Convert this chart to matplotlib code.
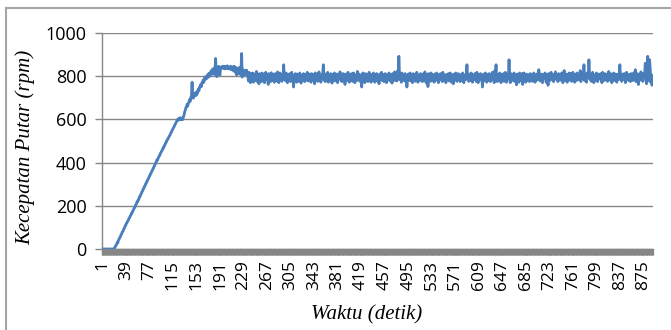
import matplotlib
matplotlib.use("Agg")
import matplotlib.pyplot as plt
from matplotlib.lines import Line2D

# Motor speed log, one reading per second
idle = [0, 0, 0, 0, 0, 0, 0, 0, 0, 0, 0, 0, 0, 0, 0, 0, 0, 0, 0]

ramp = [
    0, 8, 10, 18, 20, 30, 28, 40, 45, 52,
    55, 65, 68, 78, 80, 86, 95, 98, 108, 110,
    120, 122, 130, 132, 142, 145, 152, 156, 165, 166,
    175, 178, 188, 190, 196, 205, 208, 218, 218, 228,
    230, 242, 243, 252, 256, 265, 268, 278, 280, 290,
    292, 302, 304, 314, 316, 325, 328, 338, 340, 350,
    352, 362, 364, 374, 376, 386, 388, 398, 402, 412,
    410, 420, 424, 432, 434, 444, 448, 455, 458, 468,
    468, 478, 480, 490, 492, 502, 504, 512, 515, 522,
    526, 532, 540, 542, 552, 555, 562, 566, 574, 578,
    585, 590, 598, 600, 596, 606, 600, 608, 602, 598,
    606, 600, 612, 618, 635, 642, 655, 658, 670, 662,
    675, 680, 692, 684, 702, 710, 772, 704, 698, 716,
    708, 722, 710, 726, 716, 732, 740, 732, 750, 750,
    762, 752, 770, 770, 782, 772, 792, 784, 798, 798,
    790, 806, 796, 812, 800, 816,
]

overshoot = [
    806, 826, 810, 832, 816, 836, 808, 830, 882, 812,
    798, 832, 810, 846, 818, 806, 836, 842, 840, 846,
    836, 846, 840, 834, 846, 842, 836, 848, 840, 834,
    842, 836, 846, 830, 840, 844, 834, 824, 846, 836,
    818, 840, 806, 836, 826, 812, 840, 828, 808, 824,
    905, 796, 830, 814, 806, 826, 810, 820, 828, 802,
]

steady = [
    805, 778, 818, 792, 770, 812, 785, 800, 815, 772, 798, 810, 780, 795, 822, 776, 808, 790, 765, 812,
    788, 802, 775, 815, 795, 782, 810, 770, 798, 818, 784, 806, 792, 762, 812, 786, 800, 775, 816, 790,
    780, 808, 795, 772, 812, 788, 802, 778, 820, 792, 770, 805, 815, 784, 798, 776, 810, 790, 853, 785,
    805, 778, 815, 792, 770, 808, 786, 800, 812, 775, 796, 818, 782, 790, 750, 806, 780, 812, 795, 772,
    810, 788, 800, 776, 815, 792, 768, 805, 798, 782, 812, 790, 775, 808, 800, 786, 818, 778, 796, 810,
    784, 800, 772, 812, 795, 780, 808, 790, 765, 815, 798, 785, 810, 776, 802, 820, 788, 795, 772, 806,
    790, 812, 853, 782, 800, 775, 810, 795, 786, 818, 772, 805, 792, 780, 812, 798, 768, 808, 790, 784,
    815, 778, 800, 792, 810, 770, 805, 788, 796, 820, 782, 808, 775, 798, 812, 786, 800, 762, 810, 794,
    780, 805, 818, 790, 772, 808, 796, 784, 812, 776, 800, 815, 788, 770, 806, 792, 780, 822, 798, 785,
    810, 776, 800, 792, 750, 805, 815, 782, 798, 770, 812, 790, 786, 808, 775, 800, 818, 784, 795, 772,
    808, 790, 780, 815, 798, 772, 806, 788, 812, 778, 800, 795, 765, 810, 786, 802, 818, 780, 792, 808,
    775, 800, 812, 788, 770, 805, 796, 782, 815, 790, 778, 808, 800, 768, 812, 786, 798, 820, 780, 795,
    806, 778, 825, 792, 892, 810, 784, 800, 772, 815, 790, 805, 780, 798, 812, 775, 802, 750, 795, 810,
    782, 800, 815, 778, 806, 790, 770, 812, 796, 784, 808, 776, 800, 818, 788, 772, 805, 795, 780, 812,
    790, 802, 775, 810, 786, 798, 820, 782, 770, 808, 795, 752, 812, 788, 800, 776, 815, 792, 780, 806,
    798, 772, 810, 788, 802, 815, 780, 796, 770, 808, 790, 812, 784, 800, 775, 818, 792, 782, 806, 795,
    770, 808, 796, 784, 812, 778, 800, 815, 788, 772, 806, 792, 765, 810, 798, 782, 815, 790, 776, 804,
    812, 786, 798, 775, 808, 790, 780, 815, 795, 770, 806, 800, 784, 812, 853, 788, 802, 776, 810, 792,
    780, 815, 798, 772, 806, 790, 784, 812, 800, 776, 818, 792, 770, 808, 796, 782, 812, 788, 800, 750,
    795, 810, 778, 800, 815, 786, 772, 808, 792, 780, 812, 798, 775, 806, 790, 818, 784, 800, 770, 826,
    810, 853, 788, 775, 806, 796, 782, 815, 790, 770, 808, 800, 784, 812, 776, 798, 818, 788, 772, 806,
    792, 800, 876, 784, 770, 812, 795, 780, 808, 790, 815, 776, 800, 792, 760, 810, 786, 798, 772, 815,
    806, 782, 790, 812, 762, 800, 815, 786, 796, 772, 810, 792, 780, 806, 798, 775, 812, 790, 784, 808,
    776, 800, 815, 790, 772, 806, 798, 782, 812, 788, 830, 805, 778, 796, 810, 784, 770, 808, 792, 800,
    815, 786, 772, 806, 798, 758, 812, 790, 780, 808, 818, 784, 796, 802, 775, 810, 790, 820, 786, 798,
    808, 775, 812, 790, 800, 782, 796, 815, 788, 770, 806, 826, 792, 780, 810, 798, 772, 808, 786, 815,
    782, 800, 812, 776, 795, 818, 788, 805, 772, 810, 796, 780, 815, 790, 784, 808, 798, 826, 775, 800,
    812, 788, 798, 853, 780, 806, 792, 772, 815, 790, 800, 876, 808, 784, 796, 776, 810, 818, 788, 770,
    806, 792, 782, 815, 798, 775, 810, 790, 800, 786, 812, 796, 770, 818, 788, 804, 780, 812, 795, 784,
    808, 776, 800, 822, 790, 782, 812, 798, 770, 806, 792, 815, 780, 800, 810, 788, 772, 808, 796, 784,
    815, 853, 790, 802, 776, 810, 796, 784, 812, 798, 770, 806, 818, 788, 795, 780, 808, 792, 775, 812,
    800, 786, 780, 815, 796, 806, 830, 775, 800, 812, 788, 762, 808, 795, 782, 820, 790, 805, 776, 812,
    795, 808, 860, 786, 765, 818, 892, 810, 778, 876, 835, 772, 806, 758, 800,
]

speed_rpm = idle + ramp + overshoot + steady
seconds = list(range(1, len(speed_rpm) + 1))

x_tick_labels = [1, 39, 77, 115, 153, 191, 229, 267, 305, 343, 381, 419, 457,
                 495, 533, 571, 609, 647, 685, 723, 761, 799, 837, 875]
y_ticks = [0, 200, 400, 600, 800, 1000]

AXIS_GRAY = "#868686"
LINE_BLUE = "#4a7ebb"
TICK_FONT = ["Open Sans", "DejaVu Sans"]
LABEL_FONT = ["Liberation Serif", "DejaVu Serif"]

fig = plt.figure(figsize=(6.71, 3.30), dpi=100)
ax = fig.add_axes([102 / 671, 1 - 249 / 330, (653 - 102) / 671, (249 - 33) / 330])

ax.plot(seconds, speed_rpm, color=LINE_BLUE, lw=2.0, solid_joinstyle="round", zorder=3)

n = len(speed_rpm)
ax.set_xlim(0.5, n + 0.5)
ax.set_ylim(0, 1000)

ax.set_yticks(y_ticks)
ax.set_yticklabels([str(v) for v in y_ticks], fontsize=13, family=TICK_FONT)
ax.yaxis.grid(True, color=AXIS_GRAY, lw=1.0)
ax.set_axisbelow(True)

ax.set_xticks(x_tick_labels)
ax.set_xticklabels([str(v) for v in x_tick_labels], rotation=90, fontsize=12.5,
                   family=TICK_FONT)
# category boundary tick marks, one per reading
ax.set_xticks([k + 0.5 for k in range(0, n + 1)], minor=True)
ax.tick_params(axis="x", which="both", direction="out", length=4, width=0.9,
               color=AXIS_GRAY, pad=4)
ax.tick_params(axis="y", which="major", direction="out", length=5, width=1.0,
               color=AXIS_GRAY, pad=6)

for side in ("top", "right"):
    ax.spines[side].set_visible(False)
for side in ("left", "bottom"):
    ax.spines[side].set_color(AXIS_GRAY)
    ax.spines[side].set_linewidth(1.0)

fig.text(25 / 671, 1 - 147 / 330, "Kecepatan Putar (rpm)", rotation=90, fontsize=15,
         fontstyle="italic", family=LABEL_FONT, ha="center", va="center")
fig.text(367 / 671, 1 - 315 / 330, "Waktu (detik)", fontsize=15,
         fontstyle="italic", family=LABEL_FONT, ha="center", va="center")

# chart frame (left and top edges)
fig.add_artist(Line2D([6 / 671, 6 / 671], [0, 1 - 8 / 330], transform=fig.transFigure,
                      color="#a6a6a6", lw=1.5))
fig.add_artist(Line2D([6 / 671, 1], [1 - 8 / 330, 1 - 8 / 330], transform=fig.transFigure,
                      color="#a6a6a6", lw=1.5))

fig.savefig("out.png", dpi=100)
